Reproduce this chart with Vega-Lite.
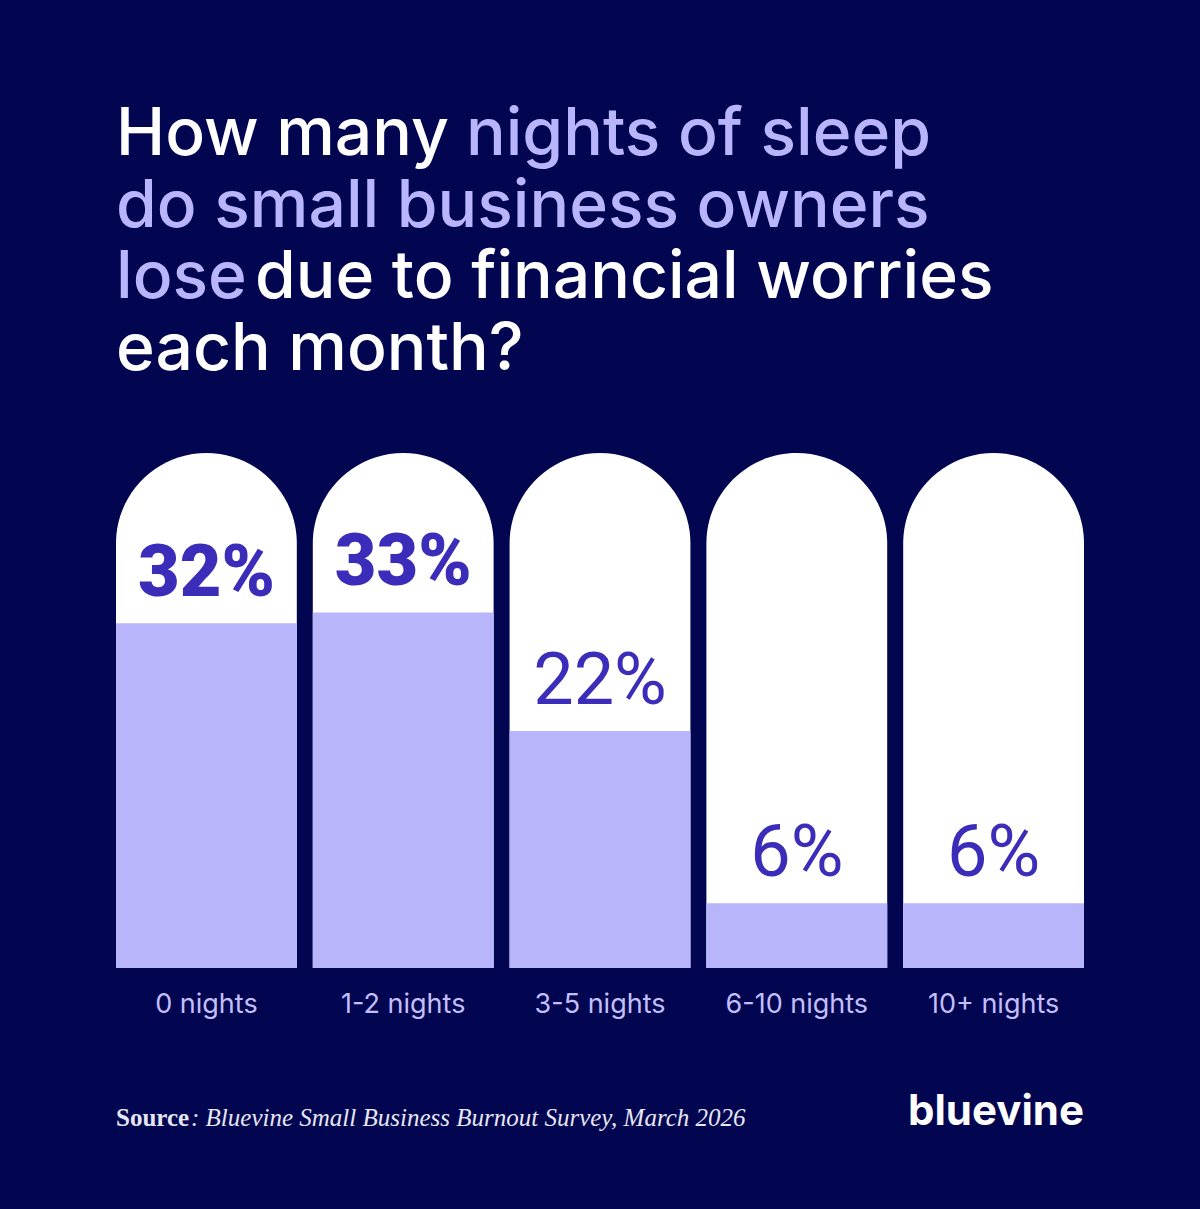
{
  "$schema": "https://vega.github.io/schema/vega-lite/v6.json",
  "width": 1200,
  "height": 1209,
  "autosize": {"type": "fit", "contains": "padding"},
  "padding": 0,
  "background": "#020550",
  "config": {"view": {"stroke": null}},
  "datasets": {
    "bars": [
      {"nights": "0 nights", "share": 0.32},
      {"nights": "1-2 nights", "share": 0.33},
      {"nights": "3-5 nights", "share": 0.22},
      {"nights": "6-10 nights", "share": 0.06},
      {"nights": "10+ nights", "share": 0.06}
    ],
    "headline": [
      {"line": 1, "text": "How many", "tone": "main"},
      {"line": 2, "text": "do small business owners", "tone": "accent"},
      {"line": 3, "text": "lose", "tone": "accent"},
      {"line": 4, "text": "each month?", "tone": "main"}
    ],
    "headline_rest_1": [
      {"line": 1, "text": "nights of sleep", "tone": "accent"}
    ],
    "headline_rest_3": [
      {"line": 3, "text": "due to financial worries", "tone": "main"}
    ]
  },
  "resolve": {"scale": {"y": "independent", "color": "independent"}},
  "layer": [
    {
      "layer": [
        {
          "data": {"name": "bars"},
          "mark": {"type": "bar", "color": "#ffffff", "cornerRadiusTopLeft": 90.4, "cornerRadiusTopRight": 90.4},
          "encoding": {
            "x": {"field": "nights", "type": "nominal", "sort": null, "scale": {"domain": ["0 nights", "1-2 nights", "3-5 nights", "6-10 nights", "10+ nights"], "range": [116, 1084], "paddingInner": 0.0812, "paddingOuter": 0}, "axis": null},
            "y": {"datum": 0.478, "type": "quantitative", "scale": {"domain": [0, 0.478], "range": [968, 453], "nice": false, "zero": true}, "axis": null},
            "y2": {"datum": 0}
          }
        },
        {
          "data": {"name": "bars"},
          "mark": {"type": "bar", "color": "#b8b5fc"},
          "encoding": {
            "x": {"field": "nights", "type": "nominal", "sort": null},
            "y": {"field": "share", "type": "quantitative"},
            "y2": {"datum": 0}
          }
        },
        {
          "data": {"name": "bars"},
          "transform": [{"filter": "datum.share >= 0.3"}],
          "mark": {"type": "text", "font": "Roboto", "fontWeight": 900, "fontSize": 72, "baseline": "alphabetic", "dy": -27, "color": "#3b2cb9"},
          "encoding": {
            "x": {"field": "nights", "type": "nominal", "sort": null},
            "y": {"field": "share", "type": "quantitative"},
            "text": {"field": "share", "format": ".0%"}
          }
        },
        {
          "data": {"name": "bars"},
          "transform": [{"filter": "datum.share < 0.3"}],
          "mark": {"type": "text", "font": "Roboto", "fontWeight": 400, "fontSize": 72, "baseline": "alphabetic", "dy": -27, "color": "#3b2cb9"},
          "encoding": {
            "x": {"field": "nights", "type": "nominal", "sort": null},
            "y": {"field": "share", "type": "quantitative"},
            "text": {"field": "share", "format": ".0%"}
          }
        },
        {
          "data": {"name": "bars"},
          "mark": {"type": "text", "font": "Inter", "fontWeight": 400, "fontSize": 27, "baseline": "middle", "dy": 37, "color": "#c2bffb"},
          "encoding": {
            "x": {"field": "nights", "type": "nominal", "sort": null},
            "y": {"datum": 0},
            "text": {"field": "nights"}
          }
        },
        {
          "data": {"values": [{"text": "Source"}]},
          "mark": {"type": "text", "font": "Liberation Serif", "fontWeight": "bold", "fontSize": 25, "align": "left", "baseline": "alphabetic", "dy": 158, "color": "#e6e6f2"},
          "encoding": {
            "x": {"datum": "0 nights", "bandPosition": 0},
            "y": {"datum": 0},
            "text": {"field": "text"}
          }
        },
        {
          "data": {"values": [{"text": ": Bluevine Small Business Burnout Survey, March 2026"}]},
          "mark": {"type": "text", "font": "Liberation Serif", "fontStyle": "italic", "fontSize": 25, "align": "left", "baseline": "alphabetic", "dx": 75, "dy": 158, "color": "#e6e6f2"},
          "encoding": {
            "x": {"datum": "0 nights", "bandPosition": 0},
            "y": {"datum": 0},
            "text": {"field": "text"}
          }
        },
        {
          "data": {"values": [{"text": "bluevine"}]},
          "mark": {"type": "text", "font": "Inter", "fontWeight": 700, "fontSize": 42, "align": "right", "baseline": "alphabetic", "dy": 157, "color": "#ffffff"},
          "encoding": {
            "x": {"datum": "10+ nights", "bandPosition": 1},
            "y": {"datum": 0},
            "text": {"field": "text"}
          }
        }
      ]
    },
    {
      "encoding": {
        "x": {"datum": "0 nights", "bandPosition": 0},
        "y": {"field": "line", "type": "ordinal", "scale": {"type": "point", "domain": [1, 2, 3, 4], "range": [155, 370], "padding": 0}, "axis": null},
        "color": {"field": "tone", "type": "nominal", "scale": {"domain": ["main", "accent"], "range": ["#ffffff", "#b8b5fc"]}, "legend": null},
        "text": {"field": "text"}
      },
      "layer": [
        {
          "data": {"name": "headline"},
          "mark": {"type": "text", "font": "Inter", "fontWeight": 500, "fontSize": 66, "align": "left", "baseline": "alphabetic"}
        },
        {
          "data": {"name": "headline_rest_1"},
          "mark": {"type": "text", "font": "Inter", "fontWeight": 500, "fontSize": 66, "align": "left", "baseline": "alphabetic", "dx": 350}
        },
        {
          "data": {"name": "headline_rest_3"},
          "mark": {"type": "text", "font": "Inter", "fontWeight": 500, "fontSize": 66, "align": "left", "baseline": "alphabetic", "dx": 139}
        }
      ]
    }
  ]
}
